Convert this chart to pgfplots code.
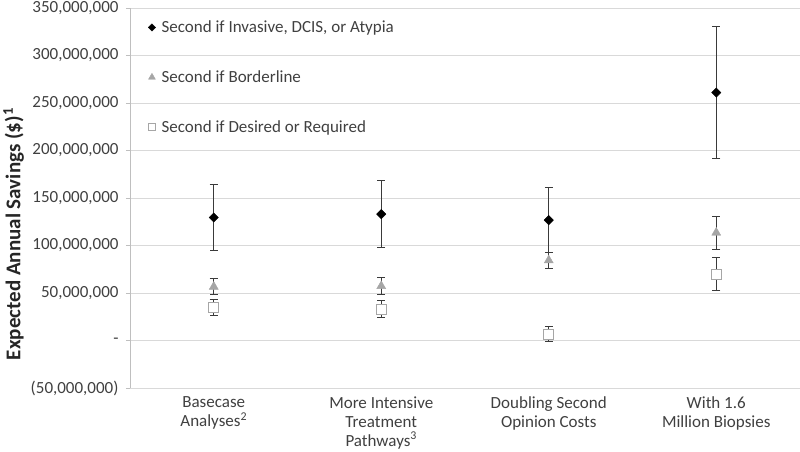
\documentclass[border=0pt]{standalone}
\usepackage{pgfplots}
\pgfplotsset{compat=1.18}
\usepackage{pgfplotstable}
\usepackage{fontspec}
\setmainfont{Carlito}
\definecolor{gridc}{HTML}{D9D9D9}
\definecolor{axisc}{HTML}{BFBFBF}
\definecolor{txt}{HTML}{404040}
\definecolor{tri}{HTML}{A6A6A6}
\definecolor{errc}{HTML}{3A3A3A}

\pgfplotstableread{
x y e
0 129500000 34500000
1 133000000 35200000
2 126700000 34400000
3 261000000 69700000
}\diamonddata
\pgfplotstableread{
x y e
0 56600000 8300000
1 57300000 9000000
2 84400000 8300000
3 113500000 17200000
}\triangledata
\pgfplotstableread{
x y e
0 34700000 8300000
1 33000000 9000000
2 6900000 8100000
3 70100000 17000000
}\squaredata

\begin{document}
\begin{tikzpicture}
\begin{axis}[
  at={(0,0)}, anchor=south west,
  width=670pt, height=380pt, scale only axis,
  xmin=-0.5, xmax=3.5,
  ymin=-50000000, ymax=350000000,
  axis lines*=left,
  axis line style={axisc},
  x axis line style={draw=none},
  ymajorgrids, grid style={gridc, line width=0.9pt},
  ytick={-50000000,0,50000000,100000000,150000000,200000000,250000000,300000000,350000000},
  yticklabels={{(50,000,000)},{-},{50,000,000},{100,000,000},{150,000,000},{200,000,000},{250,000,000},{300,000,000},{350,000,000}},
  xtick={0,1,2,3},
  xticklabels={{Basecase\\Analyses\textsuperscript{2}},{More Intensive\\Treatment\\Pathways\textsuperscript{3}},{Doubling Second\\Opinion Costs},{With 1.6\\Million Biopsies}},
  x tick style={draw=none},
  y tick style={axisc, line width=0.9pt},
  tick align=outside, major tick length=4pt,
  yticklabel style={font=\fontsize{17pt}{20pt}\selectfont, text=txt, xshift=-4pt},
  xticklabel style={font=\fontsize{17pt}{19pt}\selectfont, text=txt, align=center, yshift=-1pt},
  ylabel={\textbf{Expected Annual Savings (\$)\textsuperscript{1}}},
  ylabel style={font=\fontsize{21pt}{22pt}\selectfont, text=black!85, at={(ticklabel cs:0.40)}, xshift=2pt},
  legend style={at={(rel axis cs:0.027,0.972)}, anchor=north west, draw=none, fill=none,
    font=\fontsize{17pt}{20pt}\selectfont, text=txt, row sep=32.5pt, column sep=4pt, inner sep=0pt},
  legend cell align=left,
  clip=false,
]
\addplot[forget plot, only marks, mark=square*, mark size=3.3pt, mark options={rotate=45, fill=black, draw=black},
  error bars/.cd, y dir=both, y explicit,
  error bar style={errc, line width=0.8pt},
  error mark options={errc, line width=0.8pt, mark size=4pt, rotate=90}]
  table[x=x, y=y, y error=e]{\diamonddata};
\addplot[forget plot, only marks, mark=triangle*, mark size=5.2pt, mark options={fill=tri, draw=tri},
  error bars/.cd, y dir=both, y explicit,
  error bar style={errc, line width=0.8pt},
  error mark options={errc, line width=0.8pt, mark size=4pt, rotate=90}]
  table[x=x, y=y, y error=e]{\triangledata};
\addplot[forget plot, only marks, mark=square*, mark size=5pt, mark options={fill=white, draw=tri, line width=0.8pt},
  error bars/.cd, y dir=both, y explicit,
  error bar style={errc, line width=0.8pt},
  error mark options={errc, line width=0.8pt, mark size=4pt, rotate=90}]
  table[x=x, y=y, y error=e]{\squaredata};
\addlegendimage{only marks, mark=square*, mark size=2.6pt, mark options={rotate=45, fill=black, draw=black}}
\addlegendentry{Second if Invasive, DCIS, or Atypia}
\addlegendimage{only marks, mark=triangle*, mark size=4pt, mark options={fill=tri, draw=tri}}
\addlegendentry{Second if Borderline}
\addlegendimage{only marks, mark=square*, mark size=3.6pt, mark options={fill=white, draw=tri, line width=0.7pt}}
\addlegendentry{Second if Desired or Required}
\end{axis}
\pgfresetboundingbox
\useasboundingbox (-130pt,-63pt) rectangle (670pt,388pt);
\end{tikzpicture}
\end{document}
